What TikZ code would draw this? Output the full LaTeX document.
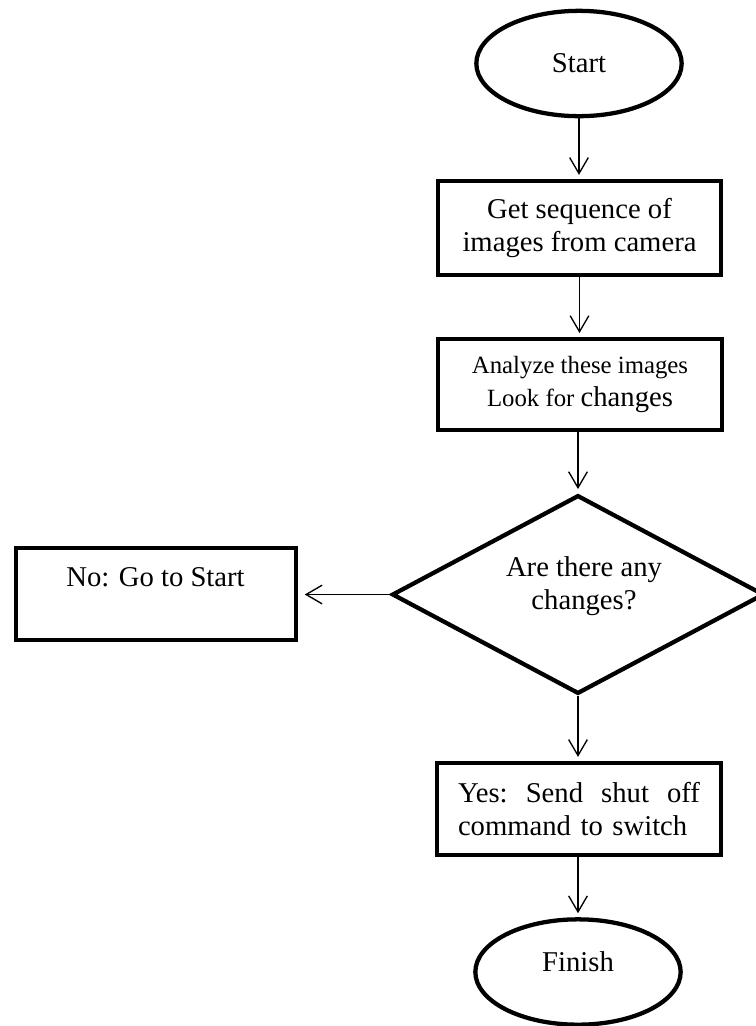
\documentclass[tikz,border=0pt]{standalone}
\usepackage{fontspec}
\setmainfont{Liberation Serif}
\usetikzlibrary{shapes.geometric,arrows.meta}
\begin{document}
\begin{tikzpicture}[x=0.75pt,y=-0.75pt,
  every node/.style={font=\fontsize{21.5}{25}\selectfont},
  term/.style={ellipse, draw, line width=3.2pt, minimum width=154pt, minimum height=79pt, inner sep=0pt},
  proc/.style={rectangle, draw, line width=3.2pt, inner sep=0pt, align=center},
  decide/.style={diamond, draw, line width=3.2pt, minimum width=279pt, minimum height=149pt, inner sep=0pt},
  lbl/.style={inner sep=0pt, align=center},
  arr/.style={-{Straight Barb[length=12pt,width=14pt]}, line width=1pt, shorten >=3pt}
]
\useasboundingbox (0,0) rectangle (756,1026);
\clip (0,0) rectangle (756,1026);

\node[term] (start) at (579,63.5) {Start};
\node[proc, minimum width=212pt, minimum height=70.5pt] (get) at (579.5,228) {Get sequence of\\images from camera};
\node[proc, minimum width=213pt, minimum height=68pt] (analyze) at (580,384.5)
  {\fontsize{18.6}{25.5}\selectfont Analyze these images\\\fontsize{18.6}{25.5}\selectfont Look for {\fontsize{21.5}{25.5}\selectfont changes}};
\node[decide] (ask) at (578,594.5) {};
\node[lbl] (asktext) at (584,586) {Are there any\\changes?};
\node[proc, minimum width=210pt, minimum height=69pt] (no) at (156,594) {};
\node[lbl] (notext) at (155.5,577) {No: Go to Start};
\node[proc, minimum width=213pt, minimum height=69pt, text width=181.5pt, align=left] (yes) at (579,809)
  {\hbox to 181.5pt{Yes:\hfill Send\hfill shut\hfill off}\\command to switch};
\node[term] (finish) at (578,972) {};
\node[lbl] (finishtext) at (578,962) {Finish};

\draw[arr] (start.south) -- (start.south |- get.north);
\draw[arr] (get.south) -- (get.south |- analyze.north);
\draw[arr] (analyze.south -| ask.north) -- (ask.north);
\draw[arr] (ask.south) -- (ask.south |- yes.north);
\draw[arr] (yes.south -| finish.north) -- (finish.north);
\draw[arr, shorten >=5pt] (ask.west) -- (ask.west -| no.east);
\end{tikzpicture}
\end{document}
